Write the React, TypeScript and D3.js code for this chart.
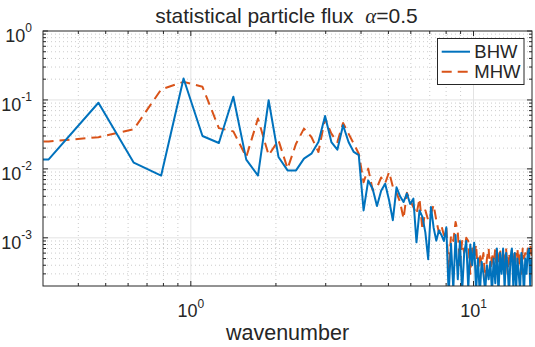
import { useEffect, useRef } from "react"
import * as d3 from "d3"

// statistical particle flux spectra, one value per wavenumber k = n*pi/20, n = 1..103
const bhw = [
    0.0137, 0.0137, 0.091, 0.0123, 0.008, 0.205, 0.03, 0.0237, 0.111, 0.0136,
    0.008, 0.099, 0.0149, 0.0095, 0.0095, 0.0141, 0.0166, 0.0245, 0.0586, 0.0245,
    0.019, 0.043, 0.0245, 0.0176, 0.0158, 0.0025, 0.0068, 0.0051, 0.0029, 0.0048,
    0.0061, 0.0035, 0.0018, 0.0054, 0.004, 0.0033, 0.0044, 0.0031, 0.0037, 0.00086,
    0.0025, 0.002, 0.0012, 0.00049, 0.0028, 0.0014, 0.00091, 0.00128, 0.0011, 0.0009,
    0.00142, 0.00015, 0.00082, 0.00018, 0.0011, 0.00025, 0.0009, 0.00016, 0.0006, 0.0009,
    0.00018, 0.0008, 0.0004, 0.00085, 0.00017, 0.0005, 0.00015, 0.00045, 0.0003, 0.00017,
    0.0004, 0.00025, 0.00045, 0.00016, 0.0005, 0.00022, 0.0007, 0.00015, 0.0006, 0.0003,
    0.0007, 0.00018, 0.0006, 0.0004, 0.00015, 0.0005, 0.0007, 0.0002, 0.0006, 0.00016,
    0.0005, 0.0003, 0.00017, 0.0006, 0.0004, 0.00015, 0.0005, 0.0003, 0.0006, 0.0007,
    0.0002, 0.0005, 0.0003,
]

const mhw = [
    0.024, 0.025, 0.0288, 0.0376, 0.142, 0.183, 0.155, 0.039, 0.035, 0.0149,
    0.0537, 0.0158, 0.026, 0.0101, 0.0232, 0.0384, 0.029, 0.0176, 0.0537, 0.0325,
    0.0245, 0.0464, 0.0325, 0.0232, 0.0166, 0.0064, 0.0101, 0.0049, 0.0054, 0.0075,
    0.0062, 0.009, 0.0055, 0.0045, 0.0033, 0.0019, 0.0045, 0.0035, 0.0028, 0.0022,
    0.0037, 0.0013, 0.0025, 0.0018, 0.0022, 0.003, 0.0018, 0.0012, 0.0015, 0.0011,
    0.0014, 0.00035, 0.0011, 0.0009, 0.0017, 0.0012, 0.0004, 0.0009, 0.0006, 0.001,
    0.0009, 0.0003, 0.0007, 0.0005, 0.0008, 0.0003, 0.0006, 0.0004, 0.0006, 0.00025,
    0.0005, 0.0007, 0.0003, 0.0006, 0.0004, 0.0007, 0.0003, 0.0005, 0.0007, 0.00035,
    0.0006, 0.0004, 0.0007, 0.0003, 0.0006, 0.0004, 0.0007, 0.0005, 0.0003, 0.0006,
    0.0007, 0.0004, 0.0006, 0.0003, 0.0007, 0.0005, 0.0006, 0.0004, 0.0007, 0.0005,
    0.0008, 0.0006, 0.0005,
]

const dk = Math.PI / 20
const wavenumber = bhw.map((_, i) => (i + 1) * dk)

const xTickExp = [0, 1]
const yTickExp = [-3, -2, -1, 0]
const seriesNames = ["BHW", "MHW"]
const seriesColors = ["#0072BD", "#D95319"]

const FONT = "'Liberation Sans', Arial, Helvetica, sans-serif"
const INK = "#262626"

export default function App() {
    const svgRef = useRef<SVGSVGElement>(null)

    useEffect(() => {
        if (!svgRef.current) return
        const svg = d3.select(svgRef.current)
        svg.selectAll("*").remove()

        const left = 43, right = 532, top = 31, bottom = 286

        const x = d3.scaleLog().domain([0.3, 16.1]).range([left, right])
        const y = d3.scaleLog().domain([2e-4, 1]).range([bottom, top])

        const isDecade = (v: number) => Math.abs(Math.log10(v) - Math.round(Math.log10(v))) < 1e-6
        const xMinor = x.ticks().filter(v => !isDecade(v) && v > 0.3 + 1e-9)
        const yMinor = y.ticks().filter(v => !isDecade(v) && v > 2e-4 + 1e-12)
        const xMajor = xTickExp.map(e => Math.pow(10, e))
        const yMajor = yTickExp.map(e => Math.pow(10, e))

        svg.append("rect").attr("width", 535).attr("height", 347).attr("fill", "#fff")

        // grid
        const grid = svg.append("g")
        grid.selectAll(".xmin").data(xMinor).enter().append("line")
            .attr("x1", d => x(d)).attr("x2", d => x(d)).attr("y1", top).attr("y2", bottom)
            .attr("stroke", "#cccccc").attr("stroke-dasharray", "1 3")
        grid.selectAll(".ymin").data(yMinor).enter().append("line")
            .attr("y1", d => y(d)).attr("y2", d => y(d)).attr("x1", left).attr("x2", right)
            .attr("stroke", "#cccccc").attr("stroke-dasharray", "1 3")
        grid.selectAll(".xmaj").data(xMajor).enter().append("line")
            .attr("x1", d => x(d)).attr("x2", d => x(d)).attr("y1", top).attr("y2", bottom)
            .attr("stroke", "#e3e3e3")
        grid.selectAll(".ymaj").data(yMajor.filter(v => v < 1)).enter().append("line")
            .attr("y1", d => y(d)).attr("y2", d => y(d)).attr("x1", left).attr("x2", right)
            .attr("stroke", "#e3e3e3")

        // data lines
        svg.append("clipPath").attr("id", "plotclip")
            .append("rect").attr("x", left).attr("y", top).attr("width", right - left).attr("height", bottom - top)

        const line = d3.line<number>()
            .x((_, i) => x(wavenumber[i]))
            .y(d => y(d))

        const lines = svg.append("g").attr("clip-path", "url(#plotclip)")
        lines.append("path").datum(mhw)
            .attr("d", line).attr("fill", "none")
            .attr("stroke", seriesColors[1]).attr("stroke-width", 2)
            .attr("stroke-dasharray", "10 6").attr("stroke-linejoin", "round")
        lines.append("path").datum(bhw)
            .attr("d", line).attr("fill", "none")
            .attr("stroke", seriesColors[0]).attr("stroke-width", 2)
            .attr("stroke-linejoin", "round")

        // axes box + inward ticks on all sides
        const ax = svg.append("g").attr("stroke", INK).attr("stroke-width", 1)
        ax.append("rect").attr("x", left).attr("y", top).attr("width", right - left).attr("height", bottom - top)
            .attr("fill", "none")
        const xt = [...xMajor.map(v => ({ v, len: 5 })), ...xMinor.map(v => ({ v, len: 3 }))]
        const yt = [...yMajor.map(v => ({ v, len: 5 })), ...yMinor.map(v => ({ v, len: 3 }))]
        xt.forEach(t => {
            ax.append("line").attr("x1", x(t.v)).attr("x2", x(t.v)).attr("y1", bottom).attr("y2", bottom - t.len)
            ax.append("line").attr("x1", x(t.v)).attr("x2", x(t.v)).attr("y1", top).attr("y2", top + t.len)
        })
        yt.forEach(t => {
            ax.append("line").attr("y1", y(t.v)).attr("y2", y(t.v)).attr("x1", left).attr("x2", left + t.len)
            ax.append("line").attr("y1", y(t.v)).attr("y2", y(t.v)).attr("x1", right).attr("x2", right - t.len)
        })

        // tick labels
        const txt = svg.append("g").attr("fill", INK).style("font-family", FONT)
        yTickExp.forEach(e => {
            const t = txt.append("text")
                .attr("x", 32).attr("y", y(Math.pow(10, e)) + 11)
                .attr("text-anchor", "end").style("font-size", "18px")
            t.append("tspan").text("10")
            t.append("tspan").attr("dy", -10).style("font-size", "12px").text(String(e))
        })
        xTickExp.forEach(e => {
            const t = txt.append("text")
                .attr("x", x(Math.pow(10, e))).attr("y", 316.5)
                .attr("text-anchor", "middle").style("font-size", "18px")
            t.append("tspan").text("10")
            t.append("tspan").attr("dy", -9).style("font-size", "12px").text(String(e))
        })

        // axis label
        txt.append("text")
            .attr("x", (left + right) / 2).attr("y", 339.5)
            .attr("text-anchor", "middle").style("font-size", "21.5px")
            .text("wavenumber")

        // title
        const title = txt.append("text")
            .attr("x", (left + right) / 2 - 1).attr("y", 22.5)
            .attr("text-anchor", "middle").style("font-size", "21px")
            .style("white-space", "pre")
        title.append("tspan").text("statistical particle flux  ")
        title.append("tspan").style("font-family", "'Liberation Serif', 'Times New Roman', serif")
            .style("font-style", "italic").text("α")
        title.append("tspan").text("=0.5")

        // legend
        const lg = svg.append("g")
        lg.append("rect").attr("x", 437.5).attr("y", 38.5).attr("width", 86.5).attr("height", 46)
            .attr("fill", "#fff").attr("stroke", INK).attr("stroke-width", 1)
        seriesNames.forEach((name, i) => {
            const cy = 51.7 + i * 20
            lg.append("line").attr("x1", 441.7).attr("x2", 470).attr("y1", cy).attr("y2", cy)
                .attr("stroke", seriesColors[i]).attr("stroke-width", 2)
                .attr("stroke-dasharray", i === 1 ? "10 6" : null)
            lg.append("text").attr("x", 474.3).attr("y", cy + 6.5)
                .attr("fill", INK).style("font-family", FONT).style("font-size", "18.5px")
                .text(name)
        })
    }, [])

    return (
        <svg ref={svgRef} width={535} height={347} viewBox="0 0 535 347"
            style={{ position: "absolute", left: 0, top: 0, display: "block" }} />
    )
}
